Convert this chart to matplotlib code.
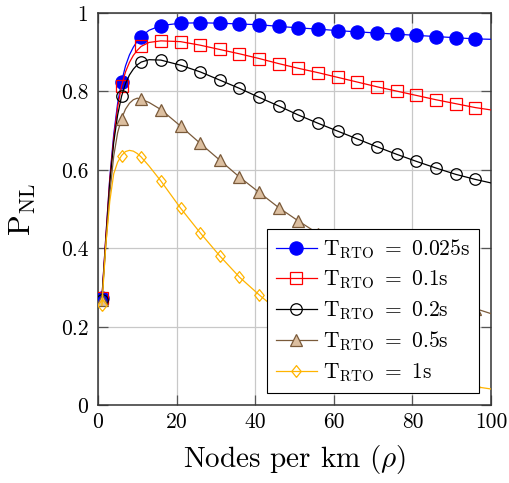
import matplotlib
matplotlib.use("Agg")
matplotlib.rcParams["font.family"] = "serif"
matplotlib.rcParams["font.serif"] = ["cmr10", "DejaVu Serif"]
matplotlib.rcParams["mathtext.fontset"] = "cm"
matplotlib.rcParams["axes.unicode_minus"] = False
import matplotlib.pyplot as plt

# marker positions (every 5 nodes/km)
x_mark = [1, 6, 11, 16, 21, 26, 31, 36, 41, 46, 51, 56, 61, 66, 71, 76, 81, 86, 91, 96]
blue_mark = [0.275, 0.825, 0.940, 0.968, 0.974, 0.975, 0.974, 0.972, 0.970, 0.966,
             0.962, 0.959, 0.955, 0.952, 0.949, 0.946, 0.943, 0.940, 0.937, 0.934]
red_mark = [0.275, 0.814, 0.915, 0.929, 0.927, 0.918, 0.907, 0.896, 0.884, 0.871,
            0.859, 0.848, 0.836, 0.824, 0.812, 0.801, 0.790, 0.779, 0.769, 0.759]
black_mark = [0.270, 0.788, 0.875, 0.880, 0.867, 0.850, 0.829, 0.808, 0.785, 0.763,
              0.740, 0.719, 0.699, 0.679, 0.659, 0.640, 0.622, 0.605, 0.589, 0.576]
brown_mark = [0.268, 0.731, 0.780, 0.754, 0.712, 0.668, 0.625, 0.582, 0.543, 0.504,
              0.470, 0.438, 0.408, 0.380, 0.354, 0.329, 0.306, 0.285, 0.266, 0.247]
yellow_mark = [0.255, 0.635, 0.633, 0.572, 0.503, 0.440, 0.381, 0.327, 0.282, 0.240,
               0.204, 0.174, 0.148, 0.126, 0.107, 0.091, 0.078, 0.066, 0.056, 0.048]

# denser readings of the curves near the rise, plus value at the right edge
x_early = [1, 2, 3, 4, 5, 6, 7, 8, 9, 10, 11, 13]
blue_early = [0.275, 0.43, 0.58, 0.69, 0.77, 0.825, 0.865, 0.893, 0.913, 0.928, 0.940, 0.956]
red_early = [0.275, 0.43, 0.575, 0.68, 0.76, 0.814, 0.850, 0.874, 0.892, 0.905, 0.915, 0.925]
black_early = [0.270, 0.42, 0.565, 0.67, 0.74, 0.788, 0.820, 0.842, 0.857, 0.868, 0.875, 0.881]
brown_early = [0.268, 0.41, 0.54, 0.635, 0.695, 0.731, 0.755, 0.770, 0.779, 0.783, 0.780, 0.772]
yellow_early = [0.255, 0.41, 0.52, 0.59, 0.62, 0.637, 0.647, 0.650, 0.648, 0.642, 0.633, 0.610]
x_end = 100
end_vals = [0.933, 0.753, 0.567, 0.234, 0.042]

labels = [r"$\mathrm{T_{RTO}}\ =\ $0.025s", r"$\mathrm{T_{RTO}}\ =\ $0.1s",
          r"$\mathrm{T_{RTO}}\ =\ $0.2s", r"$\mathrm{T_{RTO}}\ =\ $0.5s",
          r"$\mathrm{T_{RTO}}\ =\ $1s"]
xticks = [0, 20, 40, 60, 80, 100]
xtick_labels = ["0", "20", "40", "60", "80", "100"]
yticks = [0, 0.2, 0.4, 0.6, 0.8, 1]
ytick_labels = ["0", "0.2", "0.4", "0.6", "0.8", "1"]

diamond = [(0, -1), (0.8, 0), (0, 1), (-0.8, 0), (0, -1)]
styles = [
    dict(color="#0000ff", marker="o", ms=9.5, mfc="#0000ff", mec="#0000ff"),
    dict(color="#ff0000", marker="s", ms=8.2, mfc="none", mec="#ff0000"),
    dict(color="#000000", marker="o", ms=8.3, mfc="none", mec="#000000"),
    dict(color="#7a5a3a", marker="^", ms=9, mfc="#dcbfa0", mec="#7a5a3a"),
    dict(color="#ffb400", marker=diamond, ms=8.5, mfc="none", mec="#ffb400"),
]
marks = [blue_mark, red_mark, black_mark, brown_mark, yellow_mark]
earlies = [blue_early, red_early, black_early, brown_early, yellow_early]

fig = plt.figure(figsize=(5.09, 4.83), dpi=100)
ax = fig.add_axes([0.1925, 0.1605, 0.7721, 0.8126])

handles = []
for i, (m, e, st) in enumerate(zip(marks, earlies, styles)):
    lx = x_early + x_mark[3:] + [x_end]
    ly = e + m[3:] + [end_vals[i]]
    ax.plot(lx, ly, color=st["color"], lw=0.9, zorder=3 + i)
    ax.plot(x_mark, m, ls="none", marker=st["marker"], ms=st["ms"],
            mfc=st["mfc"], mec=st["mec"], mew=0.9, zorder=3 + i)
    h, = ax.plot([], [], color=st["color"], lw=0.9, marker=st["marker"], ms=st["ms"],
                 mfc=st["mfc"], mec=st["mec"], mew=0.9)
    handles.append(h)

ax.set_xlim(0, 100)
ax.set_ylim(0, 1)
ax.set_xticks(xticks)
ax.set_xticklabels(xtick_labels)
ax.set_yticks(yticks)
ax.set_yticklabels(ytick_labels)
ax.tick_params(direction="in", top=True, right=True, length=7, width=0.9,
               color="#555555", labelsize=15.5)
ax.tick_params(axis="x", pad=5)
ax.tick_params(axis="y", pad=7)
ax.grid(True, color="#c8c8c8", lw=0.9)
ax.set_axisbelow(True)
for s in ax.spines.values():
    s.set_color("#333333")
    s.set_linewidth(1.1)

ax.set_xlabel(r"Nodes per km ($\rho$)", fontsize=21, labelpad=8)
ax.set_ylabel(r"$\mathrm{P_{NL}}$", fontsize=22, labelpad=16)

leg = ax.legend(handles, labels, loc="lower right", bbox_to_anchor=(0.970, 0.033),
                borderaxespad=0, fontsize=15.5, handlelength=1.9, handletextpad=0.3,
                borderpad=0.4, labelspacing=0.36, fancybox=False, framealpha=1,
                edgecolor="#000000")
leg.get_frame().set_linewidth(0.8)
leg.set_zorder(20)

fig.savefig("out.png", dpi=100)
